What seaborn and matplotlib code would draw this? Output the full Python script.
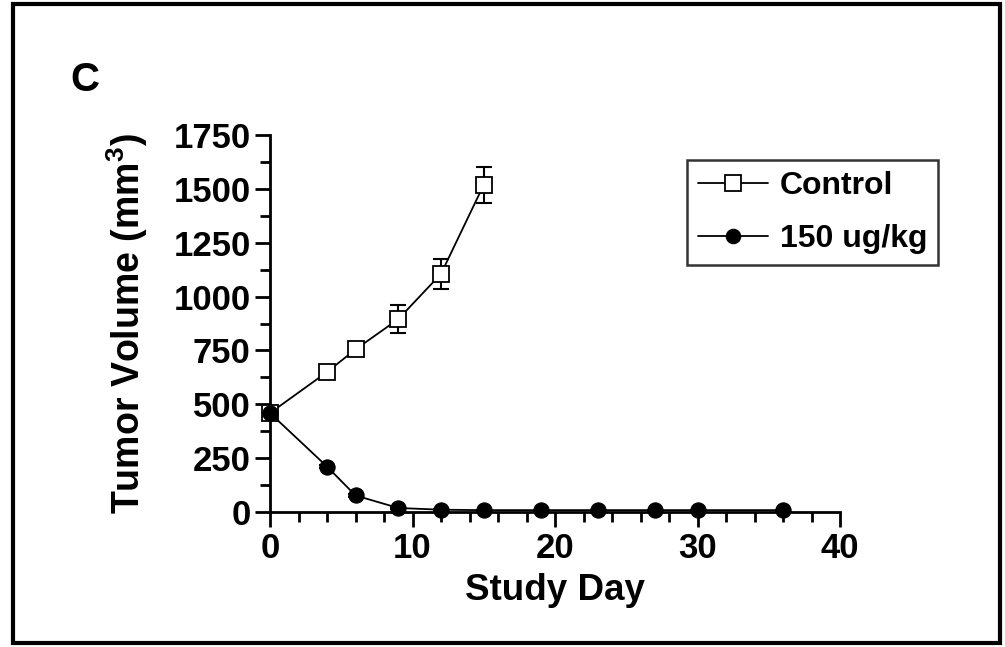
import matplotlib
matplotlib.use("Agg")
import matplotlib.pyplot as plt
import seaborn as sns
import pandas as pd
from matplotlib.ticker import MultipleLocator
from matplotlib.patches import Rectangle

# ---- data ----
control_days = [0, 4, 6, 9, 12, 15]
control_vol = [460, 650, 755, 895, 1105, 1518]
control_err = [20, 10, 28, 65, 68, 83]

treated_days = [0, 4, 6, 9, 12, 15, 19, 23, 27, 30, 36]
treated_vol = [460, 212, 78, 20, 12, 10, 10, 10, 10, 10, 10]
treated_err = [15, 8, 6, 3, 2, 2, 2, 2, 2, 2, 2]

series_names = ["Control", "150 ug/kg"]

sns.set_theme(style="ticks")
plt.rcParams['font.family'] = ['Liberation Sans', 'DejaVu Sans']
plt.rcParams['font.weight'] = 'bold'
plt.rcParams['text.color'] = 'black'
plt.rcParams['axes.labelcolor'] = 'black'
plt.rcParams['xtick.color'] = 'black'
plt.rcParams['ytick.color'] = 'black'
plt.rcParams['mathtext.fontset'] = 'custom'
plt.rcParams['mathtext.rm'] = 'Liberation Sans:bold'
plt.rcParams['mathtext.bf'] = 'Liberation Sans:bold'
plt.rcParams['mathtext.it'] = 'Liberation Sans:bold'

fig = plt.figure(figsize=(10.05, 6.47), dpi=100)
ax = fig.add_axes([270/1005, 1-512.3/647, 570/1005, (512.3-134.7)/647])

df_c = pd.DataFrame({"day": control_days, "vol": control_vol, "grp": series_names[0]})
df_t = pd.DataFrame({"day": treated_days, "vol": treated_vol, "grp": series_names[1]})

# error bars
ax.errorbar(control_days, control_vol, yerr=control_err, fmt='none', ecolor='black',
            elinewidth=1.5, capsize=6, capthick=1.5, zorder=2, clip_on=False)
ax.errorbar(treated_days, treated_vol, yerr=treated_err, fmt='none', ecolor='black',
            elinewidth=1.5, capsize=6, capthick=1.5, zorder=2, clip_on=False)

sns.lineplot(data=df_c, x="day", y="vol", ax=ax, color='black', lw=1.3,
             marker='s', markersize=11.5, markerfacecolor='white', markeredgecolor='black',
             markeredgewidth=1.3, label=series_names[0], clip_on=False, zorder=3)
sns.lineplot(data=df_t, x="day", y="vol", ax=ax, color='black', lw=1.3,
             marker='o', markersize=11, markerfacecolor='black', markeredgecolor='black',
             label=series_names[1], clip_on=False, zorder=4)

ax.set_xlim(0, 40)
ax.set_ylim(0, 1750)
ax.xaxis.set_major_locator(MultipleLocator(10))
ax.xaxis.set_minor_locator(MultipleLocator(2))
ax.yaxis.set_major_locator(MultipleLocator(250))
ax.yaxis.set_minor_locator(MultipleLocator(125))

for s in ['top', 'right']:
    ax.spines[s].set_visible(False)
for s in ['left', 'bottom']:
    ax.spines[s].set_linewidth(2)
    ax.spines[s].set_color('black')

ax.tick_params(axis='both', which='major', length=11, width=2, color='black',
               labelcolor='black', labelsize=25, pad=3, direction='out')
ax.tick_params(axis='both', which='minor', length=7, width=2, color='black', direction='out')
for lab in ax.get_xticklabels() + ax.get_yticklabels():
    lab.set_fontweight('bold')

ax.set_xlabel("Study Day", fontsize=26.5, fontweight='bold', labelpad=6, color='black')
ax.set_ylabel("Tumor Volume (mm$^{3}$)", fontsize=27, fontweight='bold', labelpad=17,
              color='black')

handles, labels = ax.get_legend_handles_labels()
leg = ax.legend(handles, labels,
                loc='upper left', bbox_to_anchor=((687-270)/570, (512.3-160)/377.6),
                fontsize=23, frameon=True, fancybox=False, edgecolor='black',
                handlelength=2.2, handletextpad=0.35, borderpad=0.35, labelspacing=0.72,
                markerscale=0.95, borderaxespad=0)
leg.get_frame().set_linewidth(1.8)
for t in leg.get_texts():
    t.set_fontweight('bold')
    t.set_color('black')

fig.text(85/1005, 1-80/647, "C", fontsize=29, fontweight='bold', ha='center', va='center',
         color='black')

fig.patches.append(Rectangle((13/1005, 4/647), (1000-13)/1005, (643-4)/647,
                             transform=fig.transFigure, fill=False, edgecolor='black',
                             linewidth=3, zorder=10))

fig.savefig("out.png", dpi=100)
